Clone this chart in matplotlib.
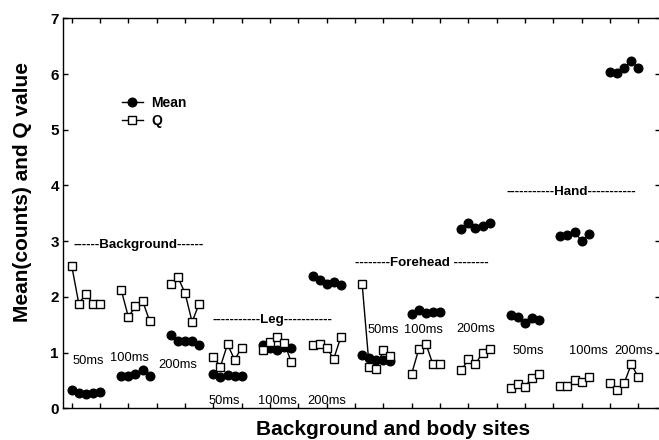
import matplotlib
matplotlib.use('Agg')
import matplotlib.pyplot as plt
import numpy as np

plt.rcParams['font.family'] = ['Liberation Sans', 'DejaVu Sans']

# data: one row per exposure (50ms, 100ms, 200ms), five readings each
sites = ['Background', 'Leg', 'Forehead', 'Hand']
exposures = ['50ms', '100ms', '200ms']

mean_background = [[0.32, 0.28, 0.25, 0.28, 0.29],
                   [0.58, 0.58, 0.61, 0.68, 0.58],
                   [1.32, 1.21, 1.21, 1.21, 1.14]]
q_background = [[2.56, 1.88, 2.05, 1.88, 1.88],
                [2.12, 1.64, 1.83, 1.93, 1.57],
                [2.23, 2.35, 2.07, 1.55, 1.88]]

mean_leg = [[0.62, 0.56, 0.59, 0.58, 0.58],
            [1.14, 1.08, 1.04, 1.10, 1.09],
            [2.38, 2.31, 2.24, 2.27, 2.21]]
q_leg = [[0.92, 0.75, 1.15, 0.87, 1.09],
         [1.05, 1.19, 1.28, 1.18, 0.83],
         [1.13, 1.16, 1.08, 0.89, 1.28]]

mean_forehead = [[0.96, 0.90, 0.87, 0.87, 0.85],
                 [1.70, 1.76, 1.71, 1.73, 1.73],
                 [3.21, 3.32, 3.24, 3.28, 3.33]]
q_forehead = [[2.24, 0.75, 0.71, 1.05, 0.94],
              [0.62, 1.06, 1.16, 0.79, 0.80],
              [0.68, 0.88, 0.79, 1.00, 1.07]]

mean_hand = [[1.67, 1.64, 1.53, 1.62, 1.59],
             [3.09, 3.11, 3.17, 3.00, 3.12],
             [6.04, 6.02, 6.10, 6.24, 6.10]]
q_hand = [[0.37, 0.44, 0.39, 0.55, 0.62],
          [0.40, 0.40, 0.50, 0.48, 0.57],
          [0.46, 0.32, 0.45, 0.79, 0.56]]

means = [mean_background, mean_leg, mean_forehead, mean_hand]
qs = [q_background, q_leg, q_forehead, q_hand]

# layout: first index of each cluster on the x axis
cluster_start = [0, 7, 14, 20, 27, 34, 41, 48, 55, 62, 69, 76]

# annotation placement (data coords)
site_text = ['------Background------', '-----------Leg-----------',
             '--------Forehead --------', '-----------Hand-----------']
site_pos = [(9.4, 2.94), (28.4, 1.58), (49.5, 2.60), (70.5, 3.88)]
exp_pos = [[(2.3, 0.85), (8.2, 0.91), (15.0, 0.77)],
           [(21.5, 0.13), (29.1, 0.13), (36.0, 0.13)],
           [(44.0, 1.40), (49.7, 1.40), (57.1, 1.43)],
           [(64.4, 1.03), (72.9, 1.03), (79.4, 1.03)]]

fig = plt.figure(figsize=(6.59, 4.4), dpi=100)
ax = fig.add_axes([63 / 659, 31.7 / 440, 597 / 659, 390 / 440])

k = 0
for s in range(len(sites)):
    for e in range(len(exposures)):
        x = cluster_start[k] + np.arange(5)
        ax.plot(x, means[s][e], '-o', color='black', ms=6.2, lw=1, zorder=3,
                label='Mean' if k == 0 else None)
        ax.plot(x, qs[s][e], '-s', color='black', mfc='white', mec='black',
                ms=5.6, mew=1, lw=1, zorder=4, label='Q' if k == 0 else None)
        ex, ey = exp_pos[s][e]
        ax.text(ex, ey, exposures[e], ha='center', va='center', fontsize=9.3)
        k += 1
    sx, sy = site_pos[s]
    ax.text(sx, sy, site_text[s], ha='center', va='center',
            fontsize=9.6, fontweight='bold')

ax.set_xlim(-1.228, 83.06)
ax.set_ylim(0, 7)
ax.set_xticks(np.arange(0, 81, 4))
ax.set_xticklabels([])
ax.set_yticks(range(8))
ax.tick_params(direction='in', top=True, right=True, length=3.5, width=1,
               labelsize=11, pad=3)
for lbl in ax.get_yticklabels():
    lbl.set_fontweight('bold')
for sp in ax.spines.values():
    sp.set_linewidth(1)

ax.legend(loc='upper left', bbox_to_anchor=(0.098, 0.802), frameon=False,
          numpoints=1, handlelength=1.55, handletextpad=0.6, labelspacing=0.3,
          borderpad=0, borderaxespad=0, prop={'weight': 'bold', 'size': 10})

fig.text(393 / 659, 5.5 / 440, 'Background and body sites', ha='center',
         va='baseline', fontsize=15, fontweight='bold')
fig.text(28 / 659, 1 - 192.5 / 440, 'Mean(counts) and Q value', rotation=90,
         rotation_mode='anchor', ha='center', va='baseline', fontsize=15,
         fontweight='bold')

fig.savefig('out.png', dpi=100)
